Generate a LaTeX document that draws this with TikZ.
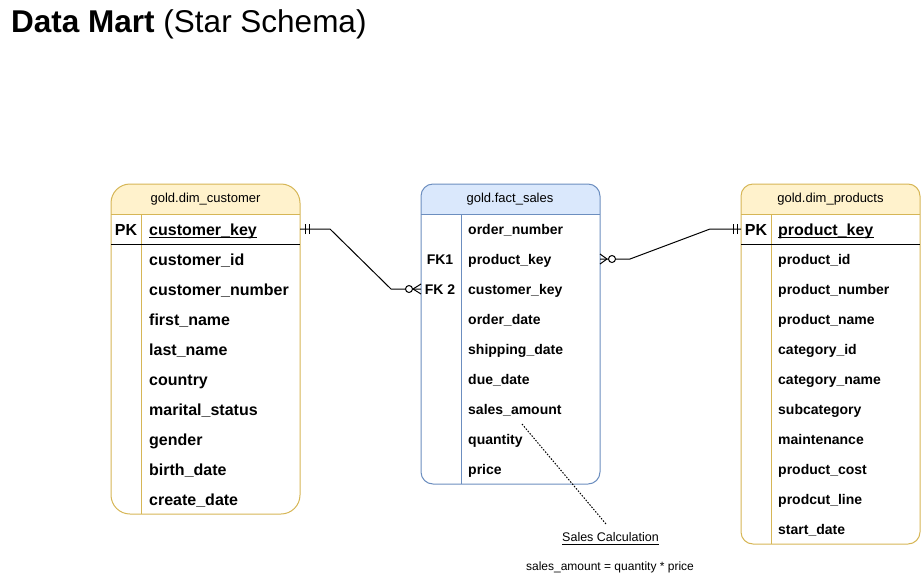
\documentclass[tikz,border=0pt]{standalone}
\usepackage{fontspec}
\setmainfont{Liberation Sans}
\definecolor{yfill}{HTML}{FFF2CC}
\definecolor{ystroke}{HTML}{D6B656}
\definecolor{bfill}{HTML}{DAE8FC}
\definecolor{bstroke}{HTML}{6C8EBF}
\begin{document}
\begin{tikzpicture}[x=1pt,y=-1pt,
  hdr/.style={inner sep=0, font=\fontsize{13}{15}\selectfont},
  bigrow/.style={inner sep=0, anchor=base west, font=\fontsize{16}{19}\selectfont\bfseries},
  smallrow/.style={inner sep=0, anchor=base west, font=\fontsize{14}{17}\selectfont\bfseries},
  keylbl/.style={inner sep=0, anchor=base, font=\fontsize{16}{19}\selectfont\bfseries},
  fklbl/.style={inner sep=0, anchor=base, font=\fontsize{14}{17}\selectfont\bfseries},
  tblbox/.style={inner sep=0, outer sep=0, line width=1pt},
  conn/.style={line width=1pt, black},
  notetext/.style={inner sep=0, anchor=base}
]
\useasboundingbox (0,0) rectangle (921,587);

% Title
\node[inner sep=0, anchor=base west, font=\fontsize{31.5}{36}\selectfont] (title) at (11,32) {\textbf{Data Mart} (Star Schema)};

% ---------------- dim_customer ----------------
\begin{scope}
  \clip[rounded corners=19] (111,184) rectangle (300,514);
  \fill[yfill] (111,184) rectangle (300,214);
\end{scope}
\node[tblbox, draw=ystroke, rounded corners=19, minimum width=189pt, minimum height=330pt] (cust) at (205.5,349) {};
\draw[ystroke, line width=1pt] (111,214) -- (300,214);
\draw[ystroke, line width=1pt] (141,214) -- (141,514);
\draw[black, line width=1pt] (111,244) -- (300,244);
\node[hdr] (custh) at (205.5,199) {gold.dim\_customer};
\node[keylbl] (custpk) at (126,235) {PK};
\node[bigrow] (custkey) at (149,235) {customer\_key};
\draw[line width=1pt] ([yshift=-2pt]custkey.base west) -- ([yshift=-2pt]custkey.base east);
\foreach \t [count=\i] in {customer\_id,customer\_number,first\_name,last\_name,country,marital\_status,gender,birth\_date,create\_date}
  \node[bigrow] (c\i) at (149,{235+30*\i}) {\t};

% ---------------- fact_sales ----------------
\begin{scope}
  \clip[rounded corners=12] (421,184) rectangle (600,484);
  \fill[bfill] (421,184) rectangle (600,214);
\end{scope}
\node[tblbox, draw=bstroke, rounded corners=12, minimum width=179pt, minimum height=300pt] (fact) at (510.5,334) {};
\draw[bstroke, line width=1pt] (421,214) -- (600,214);
\draw[bstroke, line width=1pt] (461,214) -- (461,484);
\node[hdr] (facth) at (510,199) {gold.fact\_sales};
\foreach \t [count=\i] in {order\_number,product\_key,customer\_key,order\_date,shipping\_date,due\_date,sales\_amount,quantity,price}
  \node[smallrow] (f\i) at (468,{204+30*\i}) {\t};
\node[fklbl] (fk1) at (440,264) {FK1};
\node[fklbl] (fk2) at (440,294) {FK 2};

% ---------------- dim_products ----------------
\begin{scope}
  \clip[rounded corners=12] (741,184) rectangle (920,544);
  \fill[yfill] (741,184) rectangle (920,214);
\end{scope}
\node[tblbox, draw=ystroke, rounded corners=12, minimum width=179pt, minimum height=360pt] (prod) at (830.5,364) {};
\draw[ystroke, line width=1pt] (741,214) -- (920,214);
\draw[ystroke, line width=1pt] (771,214) -- (771,544);
\draw[black, line width=1pt] (741,244) -- (920,244);
\node[hdr] (prodh) at (830.5,199) {gold.dim\_products};
\node[keylbl] (prodpk) at (756,235) {PK};
\node[bigrow] (prodkey) at (778,235) {product\_key};
\draw[line width=1pt] ([yshift=-2pt]prodkey.base west) -- ([yshift=-2pt]prodkey.base east);
\foreach \t [count=\i] in {product\_id,product\_number,product\_name,category\_id,category\_name,subcategory,maintenance,product\_cost,prodcut\_line,start\_date}
  \node[smallrow] (p\i) at (778,{234+30*\i}) {\t};

% ---------------- connectors ----------------
\coordinate (cA) at (300,229);
\coordinate (cB) at (421,289);
\draw[conn] (cA) -- ([xshift=30pt]cA) -- ([xshift=-30pt]cB) -- (cB);
\draw[conn] ([xshift=5pt,yshift=-5pt]cA) -- ([xshift=5pt,yshift=5pt]cA);
\draw[conn] ([xshift=9pt,yshift=-5pt]cA) -- ([xshift=9pt,yshift=5pt]cA);
\draw[conn] ([xshift=-8pt]cB) -- ([yshift=-5pt]cB);
\draw[conn] ([xshift=-8pt]cB) -- ([yshift=5pt]cB);
\draw[conn, fill=white] ([xshift=-12pt]cB) circle (3.5);

\coordinate (fB) at (600,259);
\coordinate (pA) at (741,229);
\draw[conn] (fB) -- ([xshift=30pt]fB) -- ([xshift=-31pt]pA) -- (pA);
\draw[conn] ([xshift=7pt]fB) -- ([yshift=-5pt]fB);
\draw[conn] ([xshift=7pt]fB) -- ([yshift=5pt]fB);
\draw[conn, fill=white] ([xshift=12pt]fB) circle (3.5);
\draw[conn] ([xshift=-8pt,yshift=-5pt]pA) -- ([xshift=-8pt,yshift=5pt]pA);
\draw[conn] ([xshift=-4pt,yshift=-5pt]pA) -- ([xshift=-4pt,yshift=5pt]pA);

% ---------------- note ----------------
\node[notetext, font=\fontsize{12.5}{15}\selectfont] (notet) at (610.5,541.5) {Sales Calculation};
\draw[line width=0.8pt] ([yshift=-2.5pt]notet.base west) -- ([yshift=-2.5pt]notet.base east);
\node[notetext, font=\fontsize{12}{14}\selectfont] (noteb) at (610,570) {sales\_amount = quantity * price};
\coordinate (dotA) at (522,424);
\coordinate (dotB) at (606,524);
\draw[line width=1pt, dash pattern=on 1.5pt off 1.5pt] (dotA) -- (dotB);
\end{tikzpicture}
\end{document}
